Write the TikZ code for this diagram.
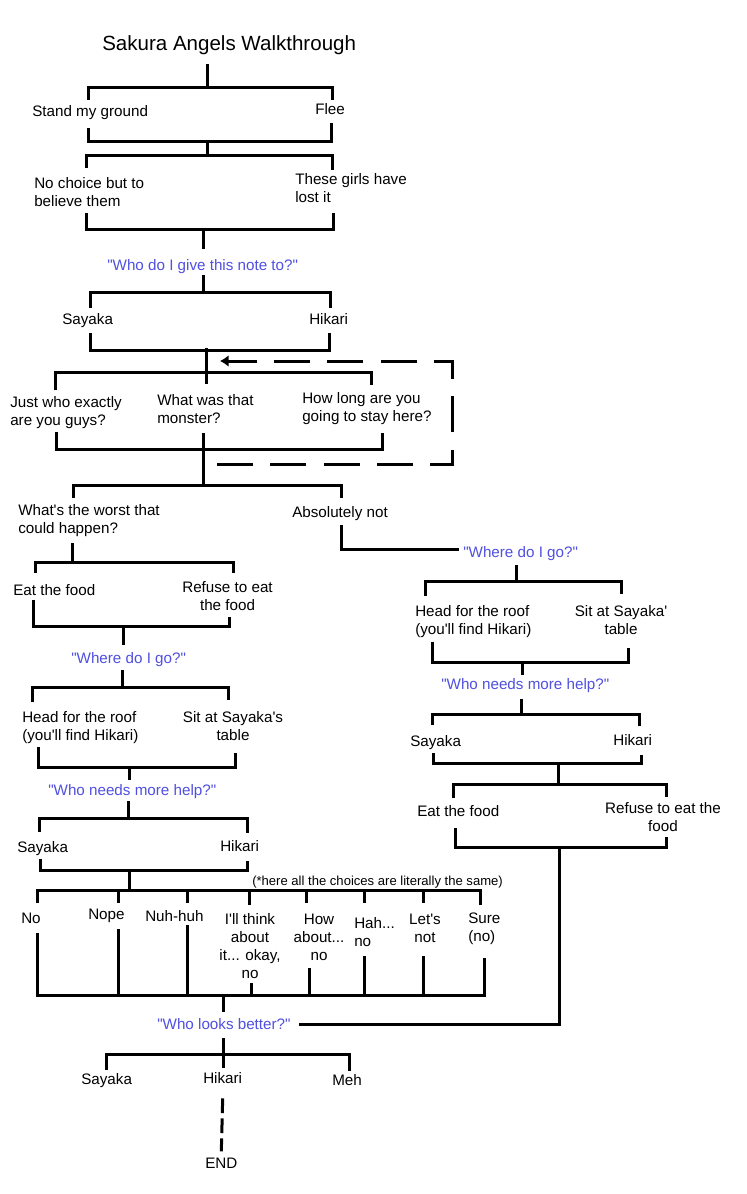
\documentclass[tikz,border=0pt]{standalone}
\usepackage{fontspec}
\setmainfont{Liberation Sans}[Ligatures=TeXOff]
\usetikzlibrary{arrows.meta}
\definecolor{askblue}{RGB}{80,80,225}

\begin{document}
\begin{tikzpicture}[
        x=0.75pt, y=-0.75pt,
        every node/.style={inner sep=0pt, anchor=north west, font=\fontsize{11.4}{13.5}\selectfont},
        head/.style={font=\fontsize{15.4}{18}\selectfont},
        small/.style={font=\fontsize{9.8}{12}\selectfont},
        ask/.style={text=askblue},
        lft/.style={align=left},
        mid/.style={anchor=north, align=center},
        bar/.style={line width=2.25pt},
        loopback/.style={bar, dash pattern=on 27pt off 13pt, dash phase=29.5pt},
        endline/.style={bar, dash pattern=on 11pt off 4pt},
    ]
        \fill[white] (0,0) rectangle (746,1194);
        \useasboundingbox (0,0) rectangle (746,1194);

        \node[head] (title) at (102,35) {Sakura Angels Walkthrough};

        \node (stand) at (32,105) {Stand my ground};
        \node (flee) at (315,103.5) {Flee};
        \node[lft] (believe) at (34,177) {No choice but to\\believe them};
        \node[lft] (lostit) at (295,173.5) {These girls have\\lost it};
        \node[ask] (note) at (107,259) {"Who do I give this note to?"};
        \node (sayaka1) at (62,313) {Sayaka};
        \node (hikari1) at (309,313) {Hikari};
        \node[lft] (who) at (10,396) {Just who exactly\\are you guys?};
        \node[lft] (monster) at (157,394) {What was that\\monster?};
        \node[lft] (stay) at (302,392) {How long are you\\going to stay here?};
        \node[lft] (worst) at (18,504) {What's the worst that\\could happen?};
        \node (absnot) at (292,506.5) {Absolutely not};

        \node (eat1) at (13,584) {Eat the food};
        \node[mid] (refuse1) at (227.5,581.5) {Refuse to eat\\the food};
        \node[ask] (where1) at (71,652.5) {"Where do I go?"};
        \node[lft] (roof1) at (22,711.7) {Head for the roof\\(you'll find Hikari)};
        \node[mid] (sit1) at (233,711.7) {Sit at Sayaka's\\table};
        \node[ask] (help1) at (48,784) {"Who needs more help?"};
        \node (sayaka2) at (17,841.7) {Sayaka};
        \node (hikari2) at (220,840) {Hikari};
        \node[small] (same) at (252,876) {(*here all the choices are literally the same)};

        \node (no) at (21,912.3) {No};
        \node (nope) at (88,908.3) {Nope};
        \node (nuhhuh) at (145,910) {Nuh-huh};
        \node[mid] (think) at (250,913.3) {I'll think\\about\\it... okay,\\no};
        \node[mid] (howabout) at (319,913.3) {How\\about...\\no};
        \node[lft] (hah) at (354,917.3) {Hah...\\no};
        \node[mid] (letsnot) at (425,913.3) {Let's\\not};
        \node[lft] (sure) at (468,912.3) {Sure\\(no)};

        \node[ask] (looks) at (157,1018.3) {"Who looks better?"};
        \node (sayaka3) at (81,1073) {Sayaka};
        \node (hikari3) at (203,1072) {Hikari};
        \node (meh) at (332,1074) {Meh};
        \node (end) at (205,1158) {END};

        \node[ask] (where2) at (463,546) {"Where do I go?"};
        \node[lft] (roof2) at (415,605) {Head for the roof\\(you'll find Hikari)};
        \node[mid] (sit2) at (621,605) {Sit at Sayaka'\\table};
        \node[ask] (help2) at (441,678.3) {"Who needs more help?"};
        \node (sayaka4) at (410,735) {Sayaka};
        \node (hikari4) at (613,734) {Hikari};
        \node (eat2) at (417,805) {Eat the food};
        \node[mid] (refuse2) at (663,802.3) {Refuse to eat the\\food};

        \draw[bar] (207,64) -- (207,88);
        \draw[bar] (88,100) |- (332,88) -- (332,100);
        \draw[bar] (88,128) |- (331,142) -- (331,123);
        \draw[bar] (207,142) -- (207,156);
        \draw[bar] (86,168) |- (332,156) -- (332,170);
        \draw[bar] (86,213) |- (333,230) -- (333,213);
        \draw[bar] (203,230) -- (203,249);
        \draw[bar] (203,275) -- (203,293);
        \draw[bar] (90,308) |- (330,293) -- (330,308);
        \draw[bar] (90,333) |- (329,350) -- (329,333);
        \draw[bar] (206,348) -- (206,384);
        \draw[bar] (55,390) |- (371,372) -- (371,385);
        \draw[bar] (56,432) |- (382,449) -- (382,433);
        \draw[bar] (203,433) -- (203,485);
        \draw[loopback, -{Latex[length=6.5pt,width=9pt]}] (203,464) -| (452,361) -- (220,361);
        \draw[bar] (73,498) |- (341,485) -- (341,498);

        \draw[bar] (72,543) -- (72,562);
        \draw[bar] (35,573) |- (233,562) -- (233,573);
        \draw[bar] (33,600) |- (229,626) -- (229,617);
        \draw[bar] (123,626) -- (123,645);
        \draw[bar] (122,670) -- (122,687);
        \draw[bar] (32,702) |- (228,687) -- (228,700);
        \draw[bar] (38,747) |- (235,767) -- (235,753);
        \draw[bar] (129,767) -- (129,780);
        \draw[bar] (128,801) -- (128,818);
        \draw[bar] (39,832) |- (247,818) -- (247,833);
        \draw[bar] (40,859) |- (247,870) -- (247,861);
        \draw[bar] (129,870) -- (129,890);

        \draw[bar] (37,903) |- (480,890) -- (480,905);
        \foreach \x/\y in {118/903, 187/903, 249/905, 306/903, 364/903, 423/903}
            \draw[bar] (\x,890) -- (\x,\y);
        \draw[bar] (37,933) |- (484,995) -- (484,958);
        \foreach \x/\y in {118/929, 187/925, 251/983, 309/968, 364/956, 423/956}
            \draw[bar] (\x,995) -- (\x,\y);
        \draw[bar] (223,995) -- (223,1012);
        \draw[bar] (223,1038) -- (223,1068);
        \draw[bar] (106,1070) |- (349,1054) -- (349,1071);
        \draw[endline] ([yshift=-11pt]hikari3.south) -- ([yshift=5pt]end.north);

        \draw[bar] (341,525) |- ([xshift=-3pt, yshift=3pt]where2.west);
        \draw[bar] (516,565) -- (516,581);
        \draw[bar] (425,596) |- (621,581) -- (621,594);
        \draw[bar] (432,642) |- (628,662) -- (628,648);
        \draw[bar] (522,662) -- (522,675);
        \draw[bar] (521,699) -- (521,714);
        \draw[bar] (432,725) |- (639,714) -- (639,726);
        \draw[bar] (433,753) |- (641,763) -- (641,755);
        \draw[bar] (558,763) -- (558,784);
        \draw[bar] (453,798) |- (666,784) -- (666,797);
        \draw[bar] (455,828) |- (666,847) -- (666,837);
        \draw[bar] (559,847) |- ([xshift=6pt]looks.east);
    \end{tikzpicture}
\end{document}
